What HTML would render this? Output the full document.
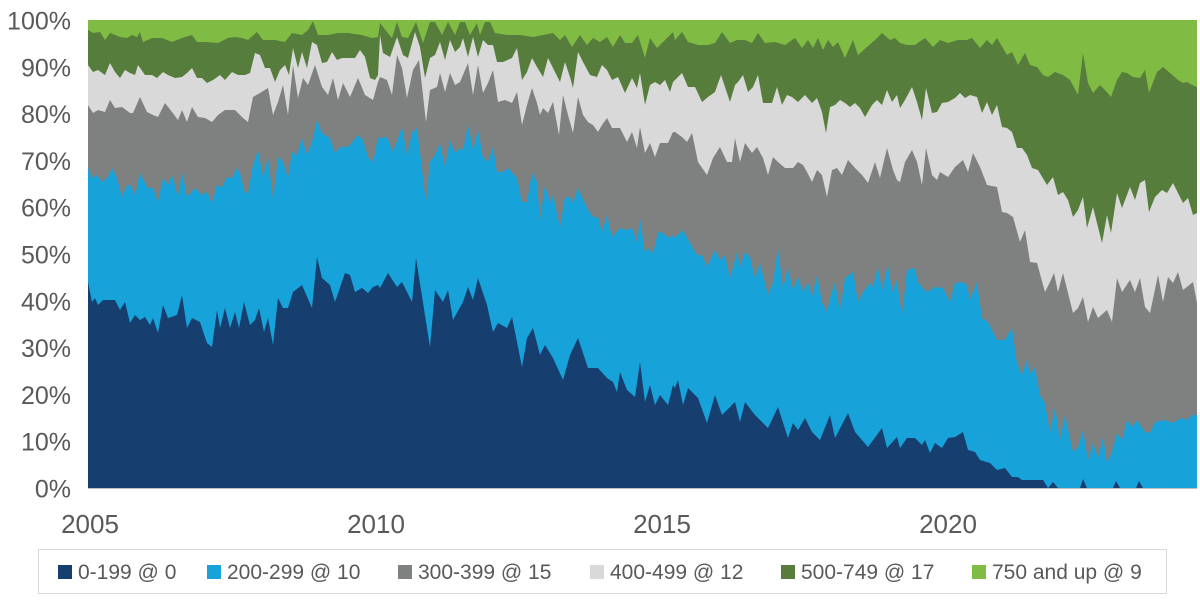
<!DOCTYPE html>
<html><head><meta charset="utf-8"><style>
html,body{margin:0;padding:0;background:#fff;}
svg{display:block;}
text{font-family:"Liberation Sans",Arial,sans-serif;fill:#595959;}
</style></head><body>
<svg width="1200" height="600" viewBox="0 0 1200 600" xmlns="http://www.w3.org/2000/svg">
<rect x="0" y="0" width="1200" height="600" fill="#fff"/>
<rect x="88" y="20" width="1109" height="468" fill="#80BB43"/>
<polygon fill="#567D3B" points="88,30 93,33 100,32 105,40 110,33 120,37 127,38 132,35 137,37 140,32 143,42 152,38 162,38 172,42 182,38 192,35 197,42 205,42 218,43 228,38 235,37 242,38 248,40 257,32 263,40 275,40 285,42 292,33 302,35 308,30 313,21 318,35 328,35 338,33 348,33 362,35 372,38 378,37 380,23 387,32 392,38 397,22 402,37 408,38 416,22 423,43 430,22 435,22 442,35 448,22 455,35 460,22 465,22 470,35 477,23 480,35 485,22 490,22 495,33 507,35 520,35 533,37 543,35 553,33 560,40 565,35 572,47 580,35 587,45 593,38 600,42 607,37 613,47 620,35 625,43 632,43 638,35 645,58 650,38 657,48 663,42 673,32 675,40 682,32 688,42 698,45 708,45 715,43 722,32 730,43 737,40 745,40 752,43 758,33 765,43 775,42 785,45 795,38 802,48 808,40 813,48 818,38 823,50 828,40 833,47 838,42 845,58 853,40 858,55 867,47 875,40 882,33 890,40 895,38 900,43 907,45 915,45 925,38 933,47 940,40 948,43 958,40 967,40 972,38 980,48 987,40 992,45 997,38 1007,55 1012,52 1018,65 1025,53 1030,65 1037,67 1043,75 1048,77 1055,72 1063,75 1070,80 1078,95 1083,53 1088,83 1093,93 1100,85 1105,90 1111,97 1117,80 1122,72 1127,73 1133,77 1140,78 1145,70 1149,93 1157,72 1163,67 1170,73 1178,80 1183,83 1187,82 1192,85 1197,87 1197,488 88,488"/>
<polygon fill="#D9D9D9" points="88,65 93,72 98,70 105,75 110,63 115,72 120,78 125,70 130,73 135,75 138,65 145,75 152,75 157,78 163,72 168,75 175,78 182,77 187,73 192,68 197,78 202,78 207,83 213,80 220,75 225,80 232,72 238,75 245,75 250,73 255,53 260,55 265,68 270,68 275,82 280,70 285,65 289,75 293,48 298,68 302,52 307,68 312,42 317,45 322,63 327,62 332,52 337,60 342,58 348,58 355,58 360,50 365,57 370,78 375,80 378,75 380,35 383,53 390,57 397,37 403,55 408,58 415,32 420,47 425,78 430,58 435,55 440,42 445,60 450,40 455,52 460,47 463,38 468,57 473,37 478,57 483,40 488,45 493,45 497,62 503,62 512,58 517,48 522,80 527,72 532,58 537,67 543,77 548,58 553,68 560,82 565,62 570,77 573,88 578,52 583,62 590,75 597,77 602,65 607,70 612,80 618,77 625,93 632,78 637,88 640,73 645,105 650,85 655,82 660,85 665,80 670,92 673,82 675,80 682,73 688,87 695,87 702,102 708,97 715,92 721,75 725,87 730,102 735,85 738,82 743,75 748,92 753,87 758,75 763,103 772,103 777,87 782,105 787,95 792,97 798,102 805,95 812,103 817,98 822,112 826,133 830,107 835,105 840,100 845,103 850,107 855,103 860,108 865,117 872,105 877,100 882,105 887,90 892,102 897,95 900,108 905,100 912,87 917,102 922,120 926,88 932,113 937,112 942,103 948,102 955,98 960,93 965,98 970,95 977,97 982,113 987,102 992,115 997,105 1002,127 1007,128 1012,132 1017,148 1022,148 1027,155 1032,168 1038,170 1047,185 1053,177 1058,195 1063,192 1068,200 1073,217 1078,210 1083,197 1087,228 1093,207 1098,227 1102,243 1107,215 1111,233 1117,193 1122,208 1130,187 1135,200 1140,183 1145,180 1149,212 1155,197 1162,190 1167,193 1173,183 1178,193 1183,203 1188,198 1193,215 1197,213 1197,488 88,488"/>
<polygon fill="#7F8080" points="88,105 93,113 98,110 105,112 110,100 115,108 122,107 130,113 133,113 140,97 147,112 153,115 158,117 165,103 172,112 178,120 182,110 187,122 192,107 198,117 205,118 212,122 218,115 225,110 235,110 243,118 248,122 253,97 260,93 268,88 273,115 278,102 283,85 288,115 293,65 298,98 303,78 308,85 315,65 322,87 328,95 333,78 338,100 343,83 350,97 358,78 365,95 373,100 378,82 380,77 387,80 392,95 397,55 402,68 407,98 413,70 419,60 426,122 430,90 437,87 440,73 445,92 450,73 455,85 460,82 468,63 473,95 478,65 483,93 488,83 493,70 498,102 505,100 512,103 517,92 522,125 527,105 532,88 537,103 540,115 543,108 548,113 553,102 559,135 563,95 568,115 573,133 578,97 583,115 588,122 593,125 598,132 602,125 607,118 612,128 620,128 627,142 632,132 637,148 640,127 645,153 650,143 655,157 660,143 668,143 673,132 675,132 682,137 687,142 692,133 698,162 707,175 713,158 720,147 727,162 732,162 735,138 740,162 745,143 752,153 757,147 763,158 768,175 773,157 778,162 785,168 793,168 798,162 803,165 807,172 812,182 817,170 822,175 827,197 832,170 837,168 842,175 848,160 855,168 862,175 868,183 875,162 880,178 887,148 893,170 897,180 900,182 905,162 912,150 917,162 922,185 926,148 932,175 937,180 940,172 948,177 955,167 963,160 968,172 973,153 980,167 987,185 997,187 1002,212 1007,213 1013,217 1020,242 1025,230 1030,262 1037,263 1045,292 1050,282 1054,273 1058,292 1063,273 1073,313 1078,308 1083,297 1088,322 1093,307 1098,318 1107,310 1112,322 1117,278 1122,292 1130,280 1135,292 1140,278 1145,307 1150,313 1158,275 1163,302 1168,277 1173,283 1178,272 1183,290 1193,282 1197,303 1197,488 88,488"/>
<polygon fill="#18A2DA" points="88,167 92,178 97,175 102,182 108,177 112,168 117,178 122,197 127,185 130,185 135,195 140,173 145,183 148,188 153,188 158,202 163,178 168,185 172,175 178,197 182,172 187,197 195,188 202,195 207,192 212,203 217,185 222,187 227,177 232,178 237,168 240,173 245,193 248,193 253,165 258,150 263,177 268,157 273,200 278,157 283,162 288,178 292,152 297,155 302,138 307,155 312,142 317,120 322,133 330,138 335,153 340,147 348,147 358,135 363,140 368,157 373,162 378,138 380,138 387,137 393,152 402,127 407,155 412,133 417,128 422,168 426,203 430,162 435,155 440,143 445,167 450,140 455,153 460,148 463,150 468,125 473,150 478,130 483,157 488,162 493,147 497,172 503,172 508,168 517,178 522,202 527,202 532,173 537,182 540,220 545,185 550,202 553,195 560,227 565,197 570,197 573,203 578,188 587,208 593,217 598,217 602,232 607,215 612,237 620,228 627,230 632,228 637,242 640,218 645,253 648,248 653,253 658,232 663,233 668,238 673,235 675,238 683,230 690,243 697,255 702,255 707,267 715,250 720,260 725,255 730,278 737,252 740,267 745,252 750,257 755,278 760,263 768,295 773,282 778,248 783,288 788,268 793,290 798,277 803,292 808,282 812,297 817,275 822,302 827,312 830,298 835,282 840,310 845,278 853,272 858,302 863,292 870,283 873,287 878,267 882,290 888,265 892,292 897,280 902,315 907,270 915,268 918,282 922,287 927,292 935,287 943,288 950,302 955,283 962,282 967,285 970,300 977,282 982,318 988,322 997,340 1005,340 1012,328 1017,363 1022,375 1027,360 1030,373 1035,368 1040,395 1045,403 1050,433 1055,407 1060,440 1065,415 1073,452 1078,447 1083,430 1088,460 1093,443 1098,458 1103,437 1107,463 1112,452 1117,433 1122,440 1127,420 1132,427 1137,420 1145,432 1150,433 1155,422 1165,420 1172,423 1182,418 1187,420 1192,415 1197,415 1197,488 88,488"/>
<polygon fill="#163F6F" points="88,282 92,302 95,298 98,305 103,300 115,300 120,310 125,302 130,323 135,315 140,320 145,317 150,325 153,318 158,333 163,305 168,318 177,315 182,295 187,328 192,318 200,322 207,343 212,347 217,310 220,328 225,308 230,328 235,312 239,328 244,302 250,325 255,320 259,308 264,332 268,318 273,345 278,298 283,308 288,308 293,292 302,285 312,308 317,257 322,278 330,285 335,302 345,273 350,275 355,292 362,288 368,293 373,287 378,285 380,288 388,273 397,287 402,282 412,302 416,258 430,347 435,290 443,302 448,290 453,320 463,302 468,287 473,300 478,278 487,305 493,332 498,323 507,328 512,317 522,367 527,338 533,328 540,355 545,345 553,358 563,380 570,355 578,338 588,368 598,368 607,378 613,382 617,392 620,372 627,390 635,397 640,362 645,402 650,385 655,405 660,395 668,405 673,385 675,388 678,380 683,405 688,388 698,398 707,423 715,395 722,415 735,402 740,422 745,402 755,415 768,428 778,407 788,438 793,423 798,430 805,418 812,432 820,440 830,415 835,438 848,413 855,432 868,447 882,428 887,448 897,437 900,448 907,438 915,438 922,445 925,440 930,453 935,443 942,448 948,438 955,437 963,432 968,450 975,452 980,460 990,463 997,470 1005,468 1012,477 1018,477 1022,480 1033,480 1043,480 1048,488 1053,482 1058,488 1080,488 1083,479 1087,488 1113,488 1116,481 1120,488 1136,488 1139,481 1143,488 1197,488 88,488"/>
<line x1="88" y1="488.5" x2="1197" y2="488.5" stroke="#BFBFBF" stroke-width="1"/>

<g font-size="25" text-anchor="end">
<text x="71" y="29.5">100%</text>
<text x="71" y="76.3">90%</text>
<text x="71" y="123.1">80%</text>
<text x="71" y="169.9">70%</text>
<text x="71" y="216.7">60%</text>
<text x="71" y="263.5">50%</text>
<text x="71" y="310.3">40%</text>
<text x="71" y="357.1">30%</text>
<text x="71" y="403.9">20%</text>
<text x="71" y="450.7">10%</text>
<text x="71" y="497.5">0%</text>
</g>
<g font-size="26" text-anchor="middle">
<text x="90" y="533">2005</text>
<text x="376" y="533">2010</text>
<text x="662" y="533">2015</text>
<text x="948" y="533">2020</text>
</g>

<rect x="38.5" y="549.5" width="1128" height="44" fill="#fff" stroke="#D9D9D9" stroke-width="1"/>
<g font-size="21">
<rect x="58" y="565" width="14" height="14" fill="#163F6F"/><text x="78" y="579">0-199 @ 0</text>
<rect x="207" y="565" width="14" height="14" fill="#18A2DA"/><text x="227" y="579">200-299 @ 10</text>
<rect x="398" y="565" width="14" height="14" fill="#7F8080"/><text x="418" y="579">300-399 @ 15</text>
<rect x="590" y="565" width="14" height="14" fill="#D9D9D9"/><text x="610" y="579">400-499 @ 12</text>
<rect x="781" y="565" width="14" height="14" fill="#567D3B"/><text x="801" y="579">500-749 @ 17</text>
<rect x="972" y="565" width="14" height="14" fill="#80BB43"/><text x="992" y="579">750 and up @ 9</text>
</g>
</svg>
</body></html>
